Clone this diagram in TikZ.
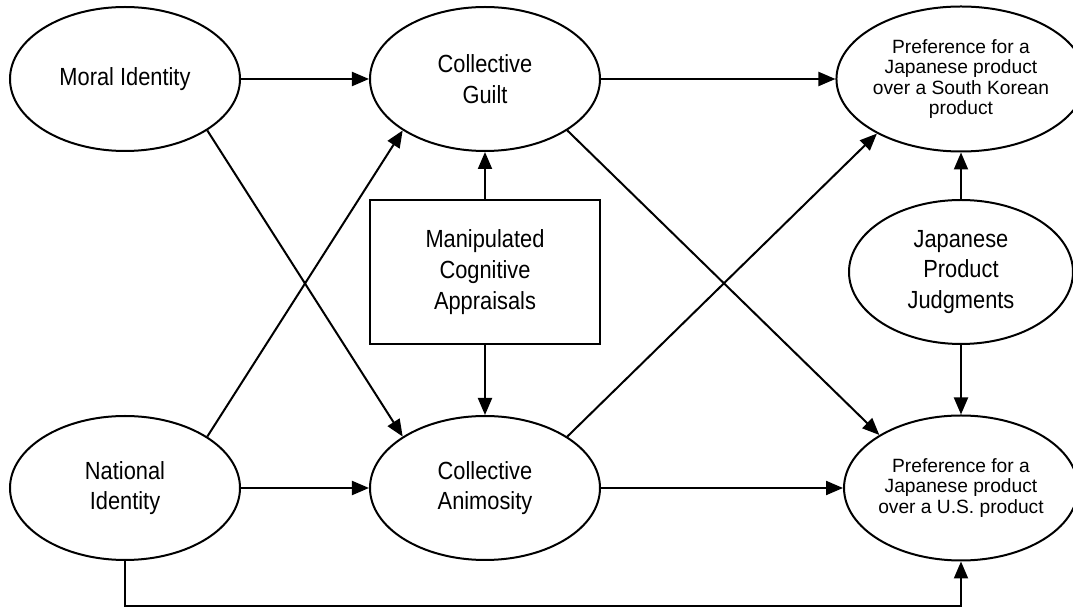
\documentclass[tikz,border=0pt]{standalone}
\usepackage{fontspec}
\setmainfont{Liberation Sans}
\newfontfamily\narrowsans{Liberation Sans}[FakeStretch=0.88]
\usetikzlibrary{shapes.geometric, arrows.meta}
\tikzstyle{latent} = [ellipse, draw=black, line width=1pt, minimum width=115pt, minimum height=72pt, inner sep=0pt, align=center, font=\narrowsans\fontsize{12.4}{15.4}\selectfont]
\tikzstyle{outcome} = [latent, minimum width=111.5pt, minimum height=72.5pt, font=\fontsize{9.6}{10.3}\selectfont]
\tikzstyle{manip} = [rectangle, draw=black, line width=1pt, minimum width=115pt, minimum height=72pt, align=center, font=\narrowsans\fontsize{12.4}{15.4}\selectfont]
\tikzstyle{arrow} = [line width=1pt, -{Triangle[length=8.5pt,width=7pt]}]

\begin{document}
\begin{tikzpicture}[node distance=180pt]
\useasboundingbox (-62.5pt,39.5pt) rectangle (474pt,-265pt);

%% NODES

\node (moral) [latent] {Moral Identity};
\node (guilt) [latent, right of=moral] {Collective\\Guilt};
\node (prefsk) [outcome, right of=guilt, node distance=238pt] {Preference for a\\Japanese product\\over a South Korean\\product};
\node (appr) [manip, below of=guilt, node distance=96.5pt] {Manipulated\\Cognitive\\Appraisals};
\node (judg) [latent, below of=prefsk, node distance=96.5pt, minimum width=112pt] {Japanese\\Product\\Judgments};
\node (anim) [latent, below of=guilt, node distance=204.5pt] {Collective\\Animosity};
\node (natl) [latent, left of=anim] {National\\Identity};
\node (prefus) [outcome, right of=anim, node distance=238pt] {Preference for a\\Japanese product\\over a U.S. product};

%% ARROWS

\draw [arrow] (moral) -- (guilt);
\draw [arrow] (natl) -- (anim);
\draw [arrow] (guilt) -- (prefsk);
\draw [arrow] (anim) -- (prefus);
\draw [arrow] (moral.-32) -- (anim.148);
\draw [arrow] (natl.32) -- (guilt.212);
\draw [arrow] (guilt.-32) -- (prefus.147);
\draw [arrow] (anim.32) -- (prefsk.213);
\draw [arrow] (appr) -- (guilt);
\draw [arrow] (appr) -- (anim);
\draw [arrow] (judg) -- (prefsk);
\draw [arrow] (judg) -- (prefus);
\draw [arrow] (natl.south) -- ++(0,-22.5pt) -| (prefus.south);
\end{tikzpicture}
\end{document}
